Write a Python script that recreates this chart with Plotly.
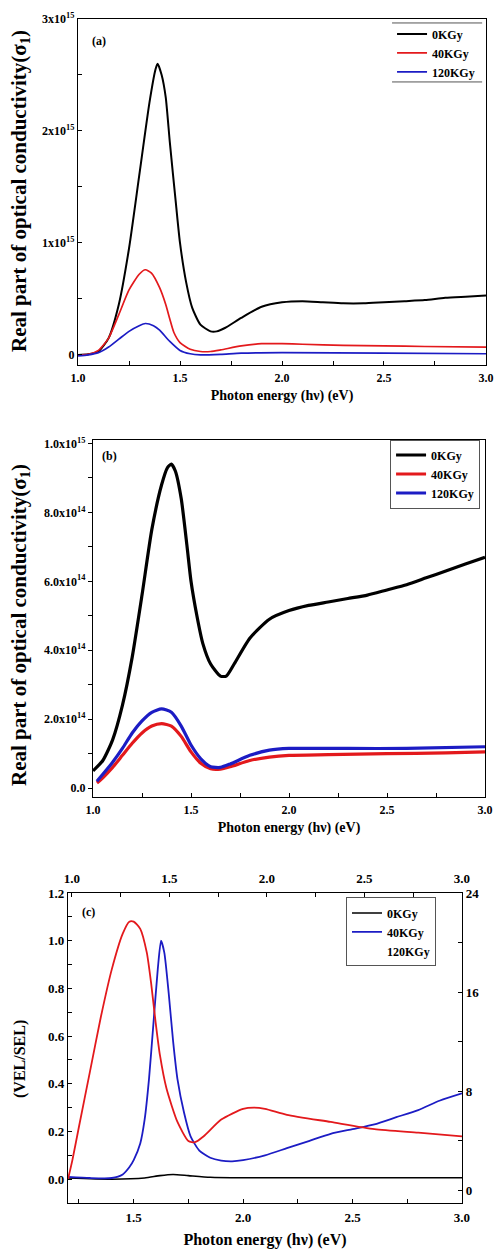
import plotly.graph_objects as go

# ---------------- Panel (a) data: real part of optical conductivity (x1e15) ----------------
a_x_0 = [1.0, 1.05, 1.1, 1.15, 1.2, 1.25, 1.3, 1.35, 1.38, 1.39, 1.41, 1.43, 1.45, 1.48, 1.5,
         1.53, 1.56, 1.6, 1.65, 1.68, 1.72, 1.8, 1.9, 2.0, 2.1, 2.2, 2.3, 2.4, 2.5, 2.6, 2.7,
         2.8, 2.9, 3.0]
a_y_0 = [0.0, 0.005, 0.03, 0.15, 0.45, 0.95, 1.6, 2.25, 2.55, 2.6, 2.5, 2.3, 1.9, 1.35, 1.0,
         0.65, 0.42, 0.27, 0.21, 0.21, 0.24, 0.33, 0.43, 0.47, 0.48, 0.47, 0.46, 0.46, 0.47,
         0.48, 0.49, 0.51, 0.52, 0.53]
a_x_40 = [1.0, 1.05, 1.1, 1.15, 1.2, 1.25, 1.3, 1.33, 1.36, 1.4, 1.43, 1.45, 1.47, 1.5, 1.55,
          1.6, 1.65, 1.7, 1.8, 1.9, 2.0, 2.1, 2.3, 2.5, 2.7, 3.0]
a_y_40 = [0.0, 0.005, 0.04, 0.15, 0.36, 0.58, 0.72, 0.76, 0.73, 0.6, 0.45, 0.32, 0.2, 0.11,
          0.05, 0.03, 0.03, 0.045, 0.08, 0.1, 0.1, 0.095, 0.085, 0.08, 0.075, 0.07]
a_x_120 = [1.0, 1.05, 1.1, 1.15, 1.2, 1.25, 1.3, 1.33, 1.37, 1.4, 1.45, 1.5, 1.55, 1.6, 1.7,
           1.8, 2.0, 2.5, 3.0]
a_y_120 = [-0.01, 0.0, 0.02, 0.07, 0.14, 0.21, 0.26, 0.28, 0.26, 0.22, 0.12, 0.04, 0.01, 0.0,
           0.005, 0.015, 0.02, 0.015, 0.01]

# ---------------- Panel (b) data (x1e14) ----------------
b_x_0 = [1.0, 1.05, 1.1, 1.15, 1.2, 1.25, 1.3, 1.35, 1.38, 1.4, 1.42, 1.45, 1.48, 1.5, 1.53,
         1.56, 1.6, 1.65, 1.68, 1.72, 1.8, 1.9, 2.0, 2.1, 2.2, 2.3, 2.4, 2.5, 2.6, 2.7, 2.8,
         2.9, 3.0]
b_y_0 = [0.5, 0.8, 1.4, 2.4, 3.8, 5.6, 7.5, 8.8, 9.3, 9.4, 9.2, 8.4, 7.0, 6.0, 5.0, 4.2, 3.6,
         3.25, 3.25, 3.6, 4.35, 4.9, 5.15, 5.3, 5.4, 5.5, 5.6, 5.75, 5.9, 6.1, 6.3, 6.5, 6.7]
b_x_40 = [1.02, 1.05, 1.1, 1.15, 1.2, 1.25, 1.3, 1.35, 1.4, 1.45, 1.5, 1.55, 1.6, 1.65, 1.7,
          1.8, 1.9, 2.0, 2.2, 2.5, 2.8, 3.0]
b_y_40 = [0.15, 0.3, 0.6, 0.95, 1.3, 1.6, 1.8, 1.87, 1.8, 1.5, 1.05, 0.72, 0.56, 0.55, 0.62,
          0.8, 0.9, 0.95, 0.97, 1.0, 1.02, 1.05]
b_x_120 = [1.02, 1.05, 1.1, 1.15, 1.2, 1.25, 1.3, 1.35, 1.4, 1.45, 1.5, 1.55, 1.6, 1.65, 1.7,
           1.8, 1.9, 2.0, 2.3, 2.6, 3.0]
b_y_120 = [0.2, 0.4, 0.75, 1.15, 1.6, 1.95, 2.2, 2.3, 2.2, 1.8, 1.25, 0.85, 0.62, 0.6, 0.7,
           0.95, 1.1, 1.15, 1.15, 1.15, 1.2]

# ---------------- Panel (c) data: VEL/SEL ----------------
c_x_0 = [1.2, 1.4, 1.55, 1.62, 1.68, 1.75, 1.85, 2.0, 2.5, 3.0]
c_y_0 = [0.005, 0.0, 0.005, 0.015, 0.02, 0.015, 0.008, 0.006, 0.006, 0.006]
c_x_40 = [1.2, 1.3, 1.4, 1.45, 1.48, 1.5, 1.53, 1.55, 1.57, 1.59, 1.61, 1.625, 1.64, 1.66,
          1.68, 1.7, 1.73, 1.76, 1.8, 1.85, 1.9, 1.95, 2.0, 2.1, 2.2, 2.3, 2.4, 2.5, 2.6, 2.7,
          2.8, 2.9, 3.0]
c_y_40 = [0.01, 0.005, 0.005, 0.02, 0.05, 0.08, 0.15, 0.25, 0.42, 0.65, 0.88, 1.0, 0.95, 0.78,
          0.58, 0.42, 0.28, 0.18, 0.12, 0.09, 0.078, 0.075, 0.08, 0.1, 0.13, 0.16, 0.19, 0.21,
          0.23, 0.26, 0.29, 0.33, 0.36]
c_x_120 = [1.2, 1.22, 1.25, 1.3, 1.35, 1.4, 1.45, 1.48, 1.5, 1.53, 1.56, 1.58, 1.6, 1.62, 1.65,
           1.7, 1.75, 1.78, 1.82, 1.9, 2.0, 2.05, 2.1, 2.2, 2.4, 2.6, 2.8, 3.0]
c_y_120 = [0.0, 0.08, 0.22, 0.45, 0.68, 0.88, 1.03, 1.08, 1.08, 1.05, 0.95, 0.82, 0.66, 0.52,
           0.38, 0.24, 0.16, 0.155, 0.18, 0.25, 0.295, 0.3, 0.295, 0.27, 0.24, 0.21, 0.195, 0.18]

legend_names = ["0KGy", "40KGy", "120KGy"]

# tick labels
xa_vals = [1.0, 1.5, 2.0, 2.5, 3.0]
xa_text = ["1.0", "1.5", "2.0", "2.5", "3.0"]
ya_vals = [0, 1e15, 2e15, 3e15]
ya_text = ["0", "1x10<sup>15</sup>", "2x10<sup>15</sup>", "3x10<sup>15</sup>"]
yb_vals = [0, 2e14, 4e14, 6e14, 8e14, 1e15]
yb_text = ["0.0", "2.0x10<sup>14</sup>", "4.0x10<sup>14</sup>", "6.0x10<sup>14</sup>",
           "8.0x10<sup>14</sup>", "1.0x10<sup>15</sup>"]
xc_vals = [1.5, 2.0, 2.5, 3.0]
xc_text = ["1.5", "2.0", "2.5", "3.0"]
yc_vals = [0.0, 0.2, 0.4, 0.6, 0.8, 1.0, 1.2]
yc_text = ["0.0", "0.2", "0.4", "0.6", "0.8", "1.0", "1.2"]
yr_vals = [0, 8, 16, 24]
yr_text = ["0", "8", "16", "24"]

BLACK = "#000000"
RED = "#e3191c"
BLUE = "#1c1cc4"
FONT = "Liberation Serif"
E15 = 1e15
E14 = 1e14

fig = go.Figure()

for xs, ys, col, nm, w in [(a_x_0, a_y_0, BLACK, legend_names[0], 2.0),
                           (a_x_40, a_y_40, RED, legend_names[1], 1.7),
                           (a_x_120, a_y_120, BLUE, legend_names[2], 1.7)]:
    fig.add_trace(go.Scatter(x=xs, y=[v * E15 for v in ys], mode="lines", name=nm,
                             line=dict(color=col, width=w, shape="spline", smoothing=0.6),
                             xaxis="x", yaxis="y", legend="legend"))
for xs, ys, col, nm in [(b_x_0, b_y_0, BLACK, legend_names[0]),
                        (b_x_40, b_y_40, RED, legend_names[1]),
                        (b_x_120, b_y_120, BLUE, legend_names[2])]:
    fig.add_trace(go.Scatter(x=xs, y=[v * E14 for v in ys], mode="lines", name=nm,
                             line=dict(color=col, width=3.2, shape="spline", smoothing=0.6),
                             xaxis="x2", yaxis="y2", legend="legend2"))
fig.add_trace(go.Scatter(x=c_x_0, y=c_y_0, mode="lines", name=legend_names[0],
                         line=dict(color=BLACK, width=1.6, shape="spline", smoothing=0.6),
                         xaxis="x3", yaxis="y3", legend="legend3"))
fig.add_trace(go.Scatter(x=c_x_40, y=c_y_40, mode="lines", name=legend_names[1],
                         line=dict(color=BLUE, width=1.8, shape="spline", smoothing=0.6),
                         xaxis="x3", yaxis="y3", legend="legend3"))
fig.add_trace(go.Scatter(x=c_x_120, y=c_y_120, mode="lines", name=legend_names[2],
                         line=dict(color=RED, width=1.8, shape="spline", smoothing=0.6),
                         xaxis="x3", yaxis="y3", showlegend=False))
fig.add_trace(go.Scatter(x=[None], y=[None], mode="lines", name=legend_names[2],
                         line=dict(color="rgba(0,0,0,0)", width=1),
                         xaxis="x3", yaxis="y3", legend="legend3"))
fig.add_trace(go.Scatter(x=[None], y=[None], mode="lines", showlegend=False,
                         xaxis="x4", yaxis="y4"))

tickfont = dict(family=FONT, size=12, color="black", weight="bold")
titlefont = dict(family=FONT, size=14, color="black", weight="bold")
ytitlefont = dict(family=FONT, size=21, color="black", weight="bold")
cfont = dict(family=FONT, size=13, color="black", weight="bold")


def ax(**kw):
    d = dict(showline=True, linecolor="black", linewidth=1.3, showgrid=False,
             zeroline=False, ticklen=4, tickcolor="black", automargin=False,
             tickmode="array", ticklabeloverflow="allow")
    d.update(kw)
    return d


def minor_in(dt, t0):
    return dict(ticks="inside", dtick=dt, tick0=t0, ticklen=4, tickcolor="black",
                showgrid=False)


def minor_out(dt, t0):
    return dict(ticks="outside", dtick=dt, tick0=t0, ticklen=4, tickcolor="black",
                showgrid=False)


fig.update_layout(
    xaxis=ax(domain=[0.1576, 0.9818], range=[1.0, 3.0], anchor="y", ticks="inside",
             mirror=True, tickvals=xa_vals, ticktext=xa_text, tickfont=tickfont,
             ticklabelstandoff=1, minor=minor_in(0.25, 1.0),
             title=dict(text="Photon energy (hν) (eV)", font=titlefont, standoff=6)),
    yaxis=ax(domain=[0.7092, 0.9849], range=[-0.09e15, 3.0e15], anchor="x", ticks="inside",
             mirror=True, tickvals=ya_vals, ticktext=ya_text, tickfont=tickfont,
             minor=minor_in(0.5e15, 0)),
    xaxis2=ax(domain=[0.1879, 0.9798], range=[1.0, 3.0], anchor="y2", ticks="inside",
              mirror=True, tickvals=xa_vals, ticktext=xa_text, tickfont=tickfont,
              ticklabelstandoff=1, minor=minor_in(0.25, 1.0),
              title=dict(text="Photon energy (hν) (eV)", font=titlefont, standoff=6)),
    yaxis2=ax(domain=[0.3649, 0.6494], range=[-0.026e15, 1.01e15], anchor="x2",
              ticks="outside", mirror=True, tickvals=yb_vals, ticktext=yb_text,
              tickfont=tickfont, minor=minor_out(1e14, 0)),
    xaxis3=ax(domain=[0.1374, 0.9333], range=[1.2, 3.0], anchor="y3", ticks="inside",
              tickvals=xc_vals, ticktext=xc_text, tickfont=cfont, ticklabelstandoff=2,
              minor=minor_in(0.25, 1.0),
              title=dict(text="Photon energy (hν) (eV)",
                         font=dict(family=FONT, size=16, color="black", weight="bold"),
                         standoff=10)),
    xaxis4=ax(domain=[0.1374, 0.9333], range=[0.98, 3.0], anchor="y3", overlaying="x3",
              side="top", ticks="inside", tickvals=xa_vals, ticktext=xa_text, tickfont=cfont,
              ticklabelstandoff=4, minor=minor_in(0.25, 1.0)),
    yaxis3=ax(domain=[0.0414, 0.2884], range=[-0.1, 1.2], anchor="x3", ticks="inside",
              tickvals=yc_vals, ticktext=yc_text, tickfont=cfont, minor=minor_in(0.1, 0)),
    yaxis4=ax(domain=[0.0414, 0.2884], range=[-1.05, 24], anchor="x3", overlaying="y3",
              side="right", ticks="inside", tickvals=yr_vals, ticktext=yr_text,
              tickfont=cfont, minor=minor_in(4, 0)),
)

# vertical axis titles
for txt, yp, fnt in [("Real part of optical conductivity(σ<sub>1</sub>)", 0.8478, ytitlefont),
                     ("Real part of optical conductivity(σ<sub>1</sub>)", 0.502, ytitlefont),
                     ("(VEL/SEL)", 0.1562,
                      dict(family=FONT, size=16, color="black", weight="bold"))]:
    fig.add_annotation(text=txt, x=0.0404, y=yp, xref="paper", yref="paper",
                       showarrow=False, textangle=-90, xanchor="center", yanchor="middle",
                       font=fnt)

legfont = dict(family=FONT, size=12, color="black", weight="bold")
fig.update_layout(
    legend=dict(x=0.792, y=0.9845, xanchor="left", yanchor="top", font=legfont,
                bgcolor="rgba(0,0,0,0)", borderwidth=0, itemwidth=30),
    legend2=dict(x=0.788, y=0.6498, xanchor="left", yanchor="top", font=legfont,
                 bgcolor="white", bordercolor="#555555", borderwidth=1, itemwidth=30),
    legend3=dict(x=0.699, y=0.2849, xanchor="left", yanchor="top", font=legfont,
                 bgcolor="white", bordercolor="#555555", borderwidth=1, itemwidth=30),
)

for yy in [0.9817, 0.9347]:
    fig.add_shape(type="line", xref="paper", yref="paper", x0=0.792, x1=0.974, y0=yy, y1=yy,
                  line=dict(color="#555555", width=1))

for txt, xp, yp in [("(a)", 0.182, 0.967), ("(b)", 0.203, 0.637), ("(c)", 0.162, 0.273)]:
    fig.add_annotation(text=txt, x=xp, y=yp, xref="paper", yref="paper", showarrow=False,
                       xanchor="left", yanchor="middle",
                       font=dict(family=FONT, size=12, color="black", weight="bold"))

fig.update_layout(width=495, height=1255, margin=dict(l=0, r=0, t=0, b=0),
                  paper_bgcolor="white", plot_bgcolor="white", showlegend=True)

fig.write_html("out.html", config={"displayModeBar": False},
               post_script="document.body.style.margin='0';")
